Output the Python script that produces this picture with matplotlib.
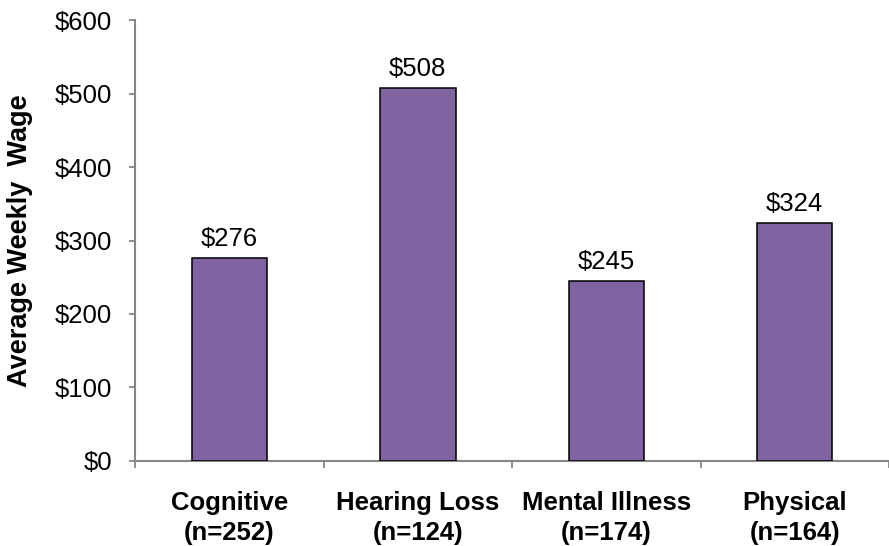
import matplotlib
matplotlib.use('Agg')
import matplotlib.pyplot as plt
from matplotlib.ticker import FixedLocator, FuncFormatter

plt.rcParams['font.family'] = ['Liberation Sans', 'DejaVu Sans']

# average weekly wage by disability group
categories = ['Cognitive\n(n=252)', 'Hearing Loss\n(n=124)', 'Mental Illness\n(n=174)', 'Physical\n(n=164)']
wages = [276, 508, 245, 324]
y_ticks = [0, 100, 200, 300, 400, 500, 600]

fig = plt.figure(figsize=(8.89, 5.46), dpi=100)
ax = fig.add_axes([0.152, 0.156, 0.848, 0.807])

x = list(range(len(categories)))
bars = ax.bar(x, wages, width=0.40, color='#8064A2', edgecolor='black', linewidth=1.1, zorder=3)

for xi, v in zip(x, wages):
    ax.annotate(f'${v}', (xi, v), textcoords='offset points', xytext=(0, 5),
                ha='center', va='bottom', fontsize=18.5)

ax.set_xlim(-0.5, len(categories) - 0.5)
ax.set_ylim(0, 600)
ax.set_yticks(y_ticks)
ax.yaxis.set_major_formatter(FuncFormatter(lambda v, p: f'${int(v)}'))
ax.tick_params(axis='y', labelsize=18.5, length=4.5, width=1.3, color='#868686', pad=12)

ax.set_xticks(x)
ax.set_xticklabels(categories, fontsize=18.5, fontweight='bold', linespacing=1.3)
ax.tick_params(axis='x', which='major', length=0, pad=22)
ax.xaxis.set_minor_locator(FixedLocator([i - 0.5 for i in range(len(categories) + 1)]))
ax.tick_params(axis='x', which='minor', length=5, width=1.3, color='#868686', direction='out')

for side in ['top', 'right']:
    ax.spines[side].set_visible(False)
for side in ['left', 'bottom']:
    ax.spines[side].set_color('#868686')
    ax.spines[side].set_linewidth(1.5)

ax.set_ylabel('Average Weekly  Wage', fontsize=19.5, fontweight='bold', labelpad=16)

fig.savefig('out.png', dpi=100)
